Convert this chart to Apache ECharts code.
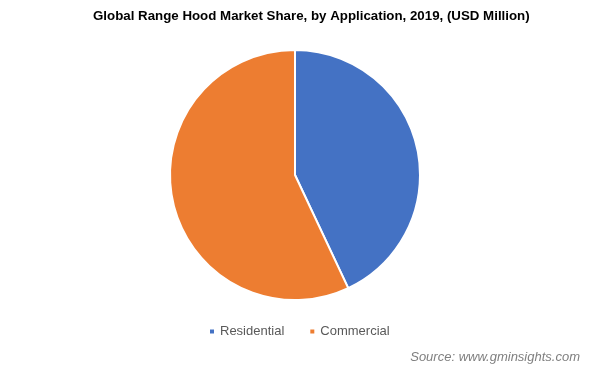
<!DOCTYPE html>
<html>
<head>
<meta charset="utf-8">
<script src="https://cdn.jsdelivr.net/npm/echarts@6/dist/echarts.min.js"></script>
<style>
  html, body { margin: 0; padding: 0; background: #fff; }
  #chart { width: 609px; height: 376px; }
</style>
</head>
<body>
<div id="chart"></div>
<script>
const categories = ['Residential', 'Commercial'];
const shares = [43, 57];
const colors = ['#4472C4', '#ED7D31'];

const myChart = echarts.init(document.getElementById('chart'));
myChart.setOption({
  animation: false,
  title: [{
    text: 'Global Range Hood Market Share, by Application, 2019, (USD Million)',
    left: 88,
    top: 5,
    textStyle: { fontFamily: 'Arial, Liberation Sans', fontSize: 13.3, fontWeight: 'bold', color: '#000' }
  }, {
    text: 'Source: www.gminsights.com',
    right: 24,
    top: 346,
    textStyle: { fontFamily: 'Arial, Liberation Sans', fontSize: 13, fontStyle: 'italic', fontWeight: 'normal', color: '#7f7f7f' }
  }],
  legend: {
    data: categories,
    top: 320,
    left: 203,
    icon: 'rect',
    itemWidth: 6,
    itemHeight: 6,
    itemGap: 24,
    textStyle: { fontFamily: 'Arial, Liberation Sans', fontSize: 13, color: '#595959' }
  },
  series: [{
    type: 'pie',
    center: [295, 175],
    radius: 125,
    startAngle: 90,
    clockwise: true,
    label: { show: false },
    labelLine: { show: false },
    itemStyle: { borderColor: '#fff', borderWidth: 2 },
    emphasis: { disabled: true },
    data: categories.map((name, i) => ({
      name: name,
      value: shares[i],
      itemStyle: { color: colors[i] }
    }))
  }]
});
</script>
</body>
</html>
